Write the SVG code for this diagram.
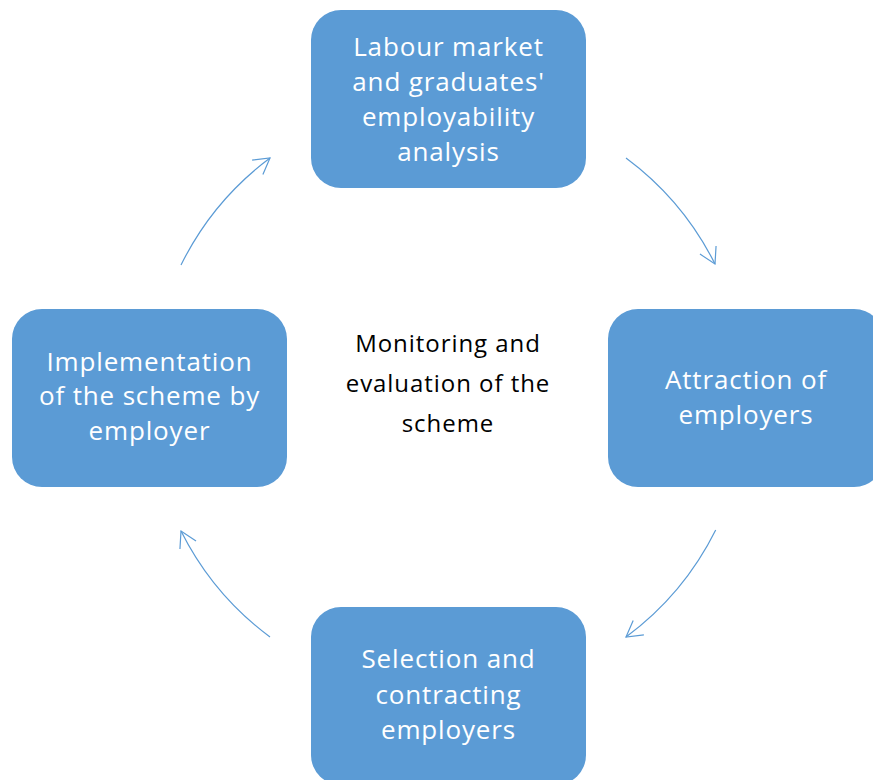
<svg xmlns="http://www.w3.org/2000/svg" width="873" height="780" viewBox="0 0 873 780">
<style>
.box{fill:#5B9BD5;}
.bt{fill:#FFFFFF;font-family:"Open Sans","Liberation Sans",sans-serif;font-size:26px;letter-spacing:0.85px;text-anchor:middle;}
.ct{fill:#000000;font-family:"Open Sans","Liberation Sans",sans-serif;font-size:24px;letter-spacing:0.95px;text-anchor:middle;}
.arc{fill:none;stroke:#5B9BD5;stroke-width:1.2;marker-end:url(#ah);}
</style>
<defs>
<marker id="ah" markerUnits="userSpaceOnUse" viewBox="-20 -12 22 24" markerWidth="22" markerHeight="24" refX="0" refY="0" orient="auto" overflow="visible">
<path d="M-15.6,-9 L0,0 L-15.6,9" fill="none" stroke="#5B9BD5" stroke-width="1.2"/>
</marker>
</defs>
<rect width="873" height="780" fill="#FFFFFF"/>
<g id="connectors">
<path class="arc" d="M626,158 A298.5,298.5 0 0 1 715,264"/>
<path class="arc" d="M715.7,530 A298.5,298.5 0 0 1 626,637"/>
<path class="arc" d="M270,637 A298.5,298.5 0 0 1 181,531"/>
<path class="arc" d="M181,265 A298.5,298.5 0 0 1 270,158"/>
</g>
<g id="node-analysis">
<rect class="box" x="311" y="10" width="275" height="178" rx="30" ry="30"/>
<text class="bt"><tspan x="448.5" y="56">Labour market</tspan><tspan x="448.5" y="91">and graduates'</tspan><tspan x="448.5" y="126">employability</tspan><tspan x="448.5" y="161">analysis</tspan></text>
</g>
<g id="node-attraction">
<rect class="box" x="608" y="309" width="276" height="178" rx="30" ry="30"/>
<text class="bt"><tspan x="746" y="389">Attraction of</tspan><tspan x="746" y="424">employers</tspan></text>
</g>
<g id="node-selection">
<rect class="box" x="311" y="607" width="275" height="178" rx="30" ry="30"/>
<text class="bt"><tspan x="448.5" y="668">Selection and</tspan><tspan x="448.5" y="704">contracting</tspan><tspan x="448.5" y="739">employers</tspan></text>
</g>
<g id="node-implementation">
<rect class="box" x="12" y="309" width="275" height="178" rx="30" ry="30"/>
<text class="bt"><tspan x="149.5" y="371">Implementation</tspan><tspan x="149.5" y="405">of the scheme by</tspan><tspan x="149.5" y="440">employer</tspan></text>
</g>
<g id="node-monitoring">
<text class="ct"><tspan x="448" y="352">Monitoring and</tspan><tspan x="448" y="392">evaluation of the</tspan><tspan x="448" y="432">scheme</tspan></text>
</g>
</svg>
